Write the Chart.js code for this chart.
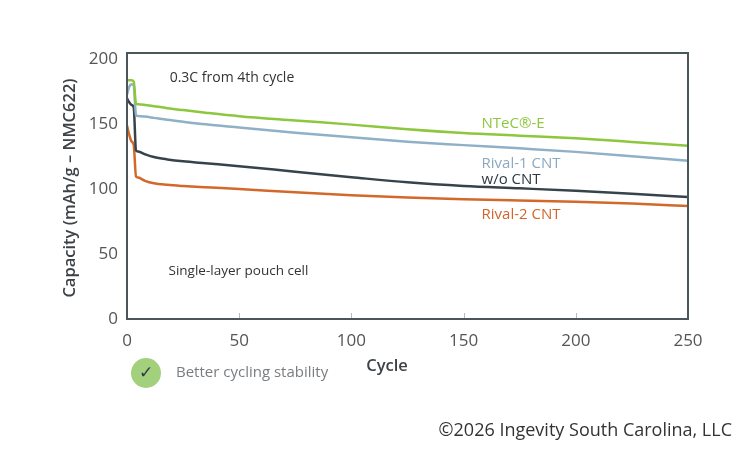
<!DOCTYPE html>
<html>
<head>
<meta charset="utf-8">
<script src="https://cdn.jsdelivr.net/npm/chart.js@4/dist/chart.umd.min.js"></script>
<style>
  html, body { margin: 0; padding: 0; background: #fff; }
  #wrap { width: 750px; height: 450px; position: relative; }
</style>
</head>
<body>
<div id="wrap"><canvas id="chart" width="750" height="450"></canvas></div>
<script>
// Cycle numbers and capacities
const cycles = [0, 1, 2, 3, 4, 5, 8, 12, 18, 25, 35, 50, 75, 100, 125, 150, 175, 200, 225, 250];
const ntecE  = [184, 184, 184, 183, 166, 165.5, 165, 164, 162.5, 161, 159, 156.3, 153, 149.8, 146.2, 143.3, 141.3, 139.3, 136.5, 133.5];
const rival1 = [173, 179, 181, 180, 157, 156.5, 156, 155, 153.5, 152, 150, 147.6, 143.6, 140, 136.6, 134, 131.5, 128.8, 125.5, 122];
const woCnt  = [170, 167, 165, 163, 130, 129, 127, 124.8, 123, 121.5, 120, 117.8, 113.5, 109.3, 105.3, 102.5, 100.7, 98.8, 96.5, 94];
const rival2 = [149, 142, 137, 134, 110, 109, 106.5, 104.6, 103.4, 102.5, 101.5, 100.2, 97.6, 95.4, 93.6, 92.3, 91.3, 90.4, 89, 87];

const xTicks = [0, 50, 100, 150, 200, 250];
const yTicks = [0, 50, 100, 150, 200];

const FONT = "'Open Sans', sans-serif";

function toPoints(values) {
    return cycles.map((c, i) => ({ x: c, y: values[i] }));
}

function makeSet(label, values, color) {
    return {
        label: label,
        data: toPoints(values),
        borderColor: color,
        backgroundColor: color,
        borderWidth: 2.5,
        pointRadius: 0,
        cubicInterpolationMode: 'monotone'
    };
}

// Box frame, inner ticks and the text notes
const decorations = {
    id: 'decorations',
    afterDatasetsDraw(chart) {
        const ctx = chart.ctx;
        const area = chart.chartArea;
        const xs = chart.scales.x;
        const ys = chart.scales.y;

        ctx.save();
        // small inward ticks on the x axis
        ctx.strokeStyle = '#b5babd';
        ctx.lineWidth = 1;
        xTicks.slice(1, -1).forEach(v => {
            const px = Math.round(xs.getPixelForValue(v)) + 0.5;
            ctx.beginPath();
            ctx.moveTo(px, area.bottom);
            ctx.lineTo(px, area.bottom - 6);
            ctx.stroke();
        });

        // frame
        ctx.strokeStyle = '#4b555c';
        ctx.lineWidth = 2;
        ctx.strokeRect(area.left, area.top, area.right - area.left, area.bottom - area.top);

        // notes inside the plot
        ctx.textBaseline = 'middle';
        ctx.textAlign = 'left';
        ctx.fillStyle = '#333';
        ctx.font = '14px ' + FONT;
        ctx.fillText('0.3C from 4th cycle', xs.getPixelForValue(19), ys.getPixelForValue(186));
        ctx.font = '13.5px ' + FONT;
        ctx.fillText('Single-layer pouch cell', xs.getPixelForValue(18.5), ys.getPixelForValue(37));

        // series labels
        const labels = [
            ['NTeC®-E', '#8dc63f', 150.5],
            ['Rival-1 CNT', '#8aaac2', 120],
            ['w/o CNT', '#2e3a42', 107],
            ['Rival-2 CNT', '#d0662a', 80]
        ];
        ctx.font = '15px ' + FONT;
        labels.forEach(l => {
            ctx.fillStyle = l[1];
            ctx.fillText(l[0], xs.getPixelForValue(158), ys.getPixelForValue(l[2]));
        });

        // axis titles
        ctx.fillStyle = '#3d4247';
        ctx.font = '600 16.5px ' + FONT;
        ctx.textAlign = 'center';
        ctx.fillText('Cycle', 387, 366);
        ctx.save();
        ctx.translate(70, (area.top + area.bottom) / 2 + 2);
        ctx.rotate(-Math.PI / 2);
        ctx.fillText('Capacity (mAh/g – NMC622)', 0, 0);
        ctx.restore();

        // check badge
        ctx.fillStyle = '#a3d07c';
        ctx.beginPath();
        ctx.arc(146, 373, 15, 0, Math.PI * 2);
        ctx.fill();
        ctx.fillStyle = '#2e3a42';
        ctx.font = '17px DejaVu Sans';
        ctx.fillText('✓', 146, 374);

        ctx.textAlign = 'left';
        ctx.fillStyle = '#7a7d80';
        ctx.font = '15px ' + FONT;
        ctx.fillText('Better cycling stability', 176, 373);

        ctx.textAlign = 'right';
        ctx.fillStyle = '#333';
        ctx.font = '18px ' + FONT;
        ctx.fillText('©2026 Ingevity South Carolina, LLC', 732, 431);
        ctx.restore();
    }
};

new Chart(document.getElementById('chart'), {
    type: 'line',
    data: {
        datasets: [
            makeSet('NTeC®-E', ntecE, '#8dc63f'),
            makeSet('Rival-1 CNT', rival1, '#8fb0c6'),
            makeSet('w/o CNT', woCnt, '#37434b'),
            makeSet('Rival-2 CNT', rival2, '#d2692a')
        ]
    },
    options: {
        responsive: false,
        animation: false,
        layout: { padding: { left: 0, top: 53, right: 62, bottom: 0 } },
        plugins: {
            legend: { display: false },
            tooltip: { enabled: false }
        },
        scales: {
            x: {
                type: 'linear',
                min: 0,
                max: 250,
                grid: { display: false, drawTicks: false },
                border: { display: false },
                ticks: {
                    padding: 12,
                    color: '#555',
                    font: { family: FONT, size: 17 }
                },
                afterBuildTicks: s => { s.ticks = xTicks.map(v => ({ value: v })); },
                afterFit: s => { s.height = 131; }
            },
            y: {
                min: 0,
                max: 205,
                grid: { display: false, drawTicks: false },
                border: { display: false },
                ticks: {
                    padding: 9,
                    color: '#555',
                    font: { family: FONT, size: 17 }
                },
                afterBuildTicks: s => { s.ticks = yTicks.map(v => ({ value: v })); },
                afterFit: s => { s.width = 127; }
            }
        }
    },
    plugins: [decorations]
});
</script>
</body>
</html>
